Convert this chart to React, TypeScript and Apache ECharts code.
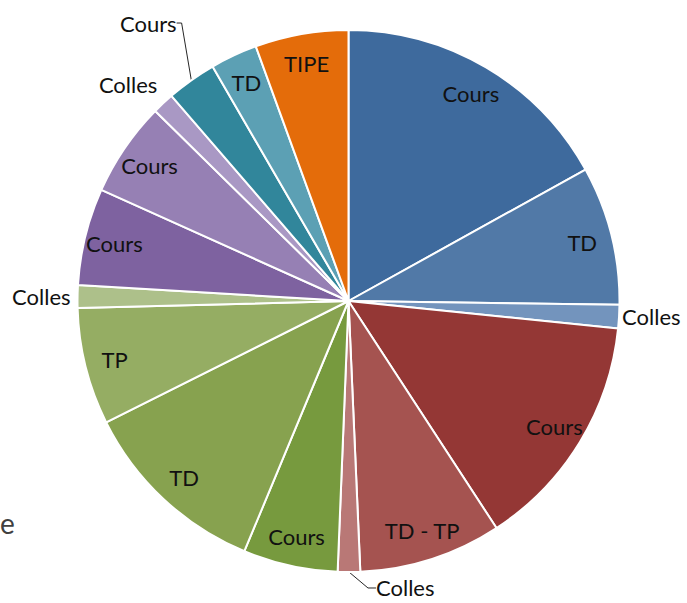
import React, { useEffect, useRef } from 'react';
import * as echarts from 'echarts';

// Slice names (clockwise from 12 o'clock)
const categories = [
  'Cours', 'TD', 'Colles',
  'Cours', 'TD - TP', 'Colles',
  'Cours', 'TD', 'TP', 'Colles',
  'Cours', 'Cours', 'Colles',
  'Cours', 'TD', 'TIPE',
];
// Slice sizes (in degrees of the full turn)
const values = [
  61, 29.8, 5,
  51.1, 30.6, 4.8,
  20.3, 40.8, 25.1, 4.9,
  20.8, 20.3, 4.7,
  10.7, 10.1, 20,
];
const colors = [
  '#3E6A9D', '#5179A7', '#7394BD',
  '#943735', '#A55350', '#B97876',
  '#779A3E', '#87A24F', '#95AD63', '#ADC08A',
  '#7E62A0', '#9680B4', '#A998C4',
  '#31869B', '#5CA0B4', '#E46C0A',
];
// Indices of slices whose label sits outside the pie
const outsideIdx = [2, 5, 9, 12, 13];

const FONT = 'Lato';

export default function App() {
  const ref = useRef<HTMLDivElement>(null);
  useEffect(() => {
    if (!ref.current) return;
    const chart = echarts.init(ref.current, null, { renderer: 'svg' });

    const outsideCfg: Record<number, any> = {
      2: { label: { show: true, distanceToLabelLine: 3 }, labelLine: { show: false, length: 0, length2: 0 } },
      5: { label: { show: true, distanceToLabelLine: 5 }, labelLine: { show: true, length: 15, length2: 8 } },
      9: { label: { show: true, distanceToLabelLine: 7 }, labelLine: { show: false, length: 0, length2: 0 } },
      12: { label: { show: true, distanceToLabelLine: 3 }, labelLine: { show: false, length: 26, length2: 0 } },
      13: { label: { show: true, distanceToLabelLine: 5 }, labelLine: { show: true, length: 15, length2: 5 } },
    };

    const mainData = categories.map((name, i) => {
      const d: any = { name, value: values[i], itemStyle: { color: colors[i] } };
      if (outsideCfg[i]) {
        d.label = outsideCfg[i].label;
        d.labelLine = outsideCfg[i].labelLine;
      }
      return d;
    });
    const overlayData = categories.map((name, i) => ({
      name,
      value: values[i],
      label: { show: outsideIdx.indexOf(i) < 0 },
    }));

    chart.setOption({
      animation: false,
      backgroundColor: '#ffffff',
      graphic: [
        {
          type: 'text',
          x: 0,
          y: 523,
          style: {
            text: 'e',
            fill: '#404040',
            font: `28px ${FONT}`,
            align: 'left',
            verticalAlign: 'middle',
          },
        },
      ],
      series: [
        {
          type: 'pie',
          center: [348.5, 301],
          radius: 271,
          startAngle: 90,
          clockwise: true,
          avoidLabelOverlap: false,
          silent: true,
          itemStyle: { borderColor: '#ffffff', borderWidth: 2 },
          label: {
            show: false,
            position: 'outside',
            fontFamily: FONT,
            fontSize: 22,
            color: '#111111',
          },
          labelLine: {
            show: false,
            lineStyle: { color: '#262626', width: 1 },
          },
          labelLayout: (p: any) => {
            const r = p.labelRect;
            if (p.dataIndex === 13) {
              return { x: r.x + r.width + 4, y: r.y + r.height / 2 - 45, align: 'right', verticalAlign: 'middle' };
            }
            if (p.dataIndex === 12) {
              return { x: r.x + r.width + 15, y: r.y + r.height / 2, align: 'right', verticalAlign: 'middle' };
            }
            if (p.dataIndex === 5) {
              return { x: r.x + 14, y: r.y + r.height / 2 + 1, align: 'left', verticalAlign: 'middle' };
            }
            return {};
          },
          data: mainData,
        },
        {
          type: 'pie',
          center: [348.5, 301],
          radius: [204, 272],
          startAngle: 90,
          clockwise: true,
          avoidLabelOverlap: false,
          silent: true,
          itemStyle: { color: 'rgba(0,0,0,0)', borderWidth: 0 },
          label: {
            show: true,
            position: 'inside',
            fontFamily: FONT,
            fontSize: 22,
            color: '#111111',
          },
          labelLine: { show: false },
          data: overlayData,
        },
      ],
    });
    return () => chart.dispose();
  }, []);
  return (
    <div
      ref={ref}
      style={{ position: 'absolute', left: 0, top: 0, width: 687, height: 603 }}
    />
  );
}
